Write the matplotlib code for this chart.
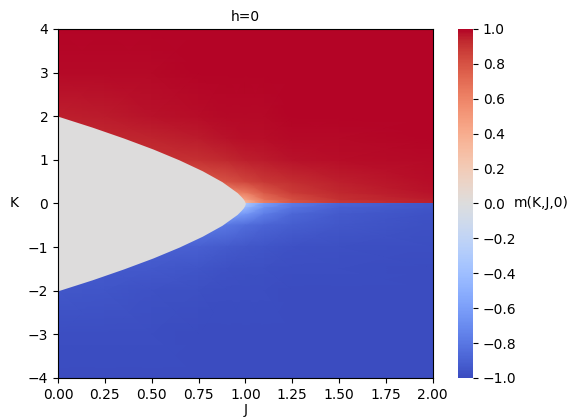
import numpy as np
import matplotlib
matplotlib.use("Agg")
import matplotlib.pyplot as plt
from matplotlib.colors import Normalize


# |m| on a coarse (J, K) grid, upper half K >= 0.
# Lower half is the mirror image with m -> -m.
J_GRID = [0.0, 0.25, 0.5, 0.75, 0.9, 1.0, 1.1, 1.25, 1.5, 2.0]
K_GRID = [0.0, 0.1, 0.25, 0.5, 1.0, 1.5, 2.0, 3.0, 4.0]
M_ABS = [
    [0.30, 0.30, 0.30, 0.30, 0.30, 0.30, 0.60, 0.78, 0.88, 0.95],
    [0.42, 0.42, 0.42, 0.42, 0.42, 0.45, 0.68, 0.82, 0.91, 0.96],
    [0.58, 0.58, 0.58, 0.58, 0.58, 0.64, 0.78, 0.88, 0.93, 0.97],
    [0.78, 0.78, 0.78, 0.78, 0.80, 0.85, 0.89, 0.92, 0.95, 0.98],
    [0.90, 0.90, 0.90, 0.91, 0.93, 0.95, 0.96, 0.97, 0.98, 0.99],
    [0.93, 0.93, 0.94, 0.96, 0.97, 0.98, 0.98, 0.99, 0.99, 1.00],
    [0.95, 0.96, 0.97, 0.98, 0.99, 0.99, 0.99, 1.00, 1.00, 1.00],
    [0.99, 0.99, 0.99, 1.00, 1.00, 1.00, 1.00, 1.00, 1.00, 1.00],
    [1.00, 1.00, 1.00, 1.00, 1.00, 1.00, 1.00, 1.00, 1.00, 1.00],
]

# edge of the m = 0 region (upper half, mirrored below)
K_EDGE = [0.0, 0.05, 0.1, 0.15, 0.25, 0.5, 0.75, 1.0, 1.25, 1.5, 1.75, 2.0]
J_EDGE = [1.0, 0.996, 0.989, 0.979, 0.956, 0.875, 0.770, 0.646, 0.506, 0.350, 0.182, 0.0]

X_TICKS = [0.0, 0.25, 0.5, 0.75, 1.0, 1.25, 1.5, 1.75, 2.0]
Y_TICKS = [-4, -3, -2, -1, 0, 1, 2, 3, 4]
CBAR_TICKS = [-1.0, -0.8, -0.6, -0.4, -0.2, 0.0, 0.2, 0.4, 0.6, 0.8, 1.0]


fig = plt.figure(figsize=(5.74, 4.18), dpi=100)
ax = fig.add_axes([0.101, 0.0957, 0.653, 0.835])
cax = fig.add_axes([0.798, 0.0957, 0.026, 0.835])

cmap = plt.get_cmap("coolwarm")
norm = Normalize(vmin=-1, vmax=1)

jj, kk = np.meshgrid(J_GRID, K_GRID)
m_abs = np.array(M_ABS)
mesh = ax.pcolormesh(jj, kk, m_abs, shading="gouraud", cmap=cmap, norm=norm)
ax.pcolormesh(jj, -kk, -m_abs, shading="gouraud", cmap=cmap, norm=norm)

k_edge = np.array(K_EDGE)
j_edge = np.array(J_EDGE)
k_full = np.concatenate([-k_edge[::-1], k_edge[1:]])
j_full = np.concatenate([j_edge[::-1], j_edge[1:]])
ax.fill_betweenx(k_full, 0, j_full, color=cmap(0.5), linewidth=0)

ax.set_xlim(0, 2)
ax.set_ylim(-4, 4)
ax.set_xticks(X_TICKS)
ax.set_xticklabels([f"{t:.2f}" for t in X_TICKS])
ax.set_yticks(Y_TICKS)
ax.set_title("h=0", fontsize=10)
ax.set_xlabel("J", fontsize=10, labelpad=1)
ax.set_ylabel("K", rotation=0, labelpad=10, fontsize=10, va="center")

cbar = fig.colorbar(mesh, cax=cax, ticks=CBAR_TICKS)
cbar.outline.set_visible(False)
cax.text(3.73, 0.5, "m(K,J,0)", transform=cax.transAxes,
         ha="left", va="center", fontsize=10)

fig.savefig("out.png", dpi=100)
